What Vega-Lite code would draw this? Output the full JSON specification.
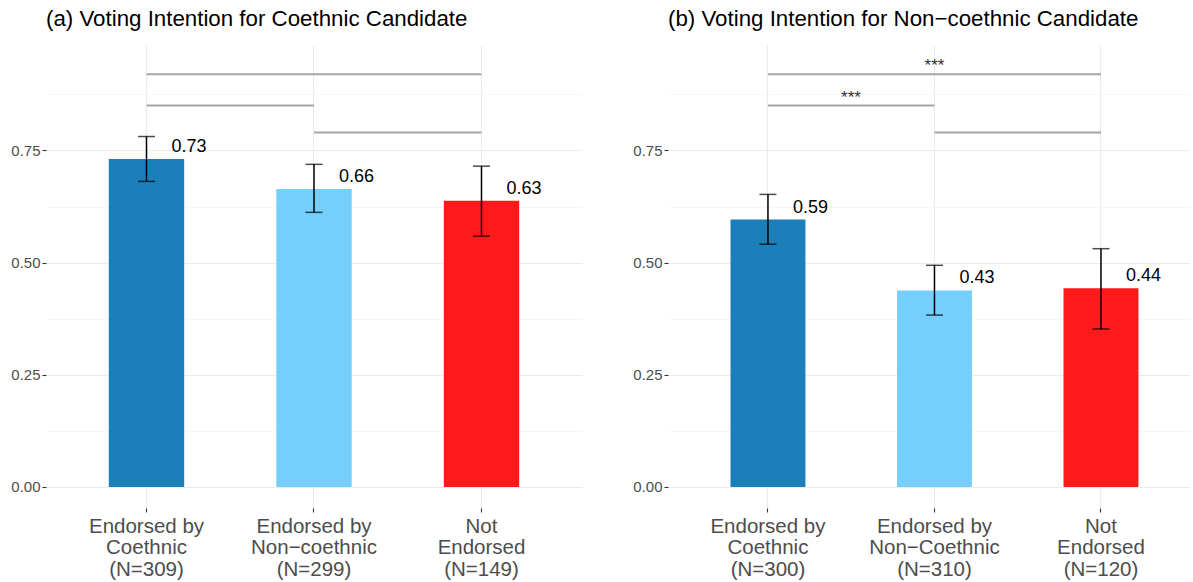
{
  "$schema": "https://vega.github.io/schema/vega-lite/v6.json",
  "background": "white",
  "padding": {"left": 10, "top": 7, "right": 0, "bottom": 0},
  "spacing": 50,
  "config": {
    "view": {"stroke": null},
    "font": "Liberation Sans",
    "title": {"anchor": "start", "frame": "group", "fontSize": 22.3, "fontWeight": "normal", "color": "#000000", "offset": 15}
  },
  "datasets": {
    "barsA": [
      {"cat": "Endorsed by|Coethnic|(N=309)", "grp": "Coethnic", "mean": 0.731, "lo": 0.681, "hi": 0.781, "label": "0.73"},
      {"cat": "Endorsed by|Non−coethnic|(N=299)", "grp": "Non-coethnic", "mean": 0.664, "lo": 0.612, "hi": 0.719, "label": "0.66"},
      {"cat": "Not|Endorsed|(N=149)", "grp": "Not endorsed", "mean": 0.638, "lo": 0.559, "hi": 0.715, "label": "0.63"}
    ],
    "barsB": [
      {"cat": "Endorsed by|Coethnic|(N=300)", "grp": "Coethnic", "mean": 0.596, "lo": 0.541, "hi": 0.652, "label": "0.59"},
      {"cat": "Endorsed by|Non−Coethnic|(N=310)", "grp": "Non-coethnic", "mean": 0.438, "lo": 0.383, "hi": 0.494, "label": "0.43"},
      {"cat": "Not|Endorsed|(N=120)", "grp": "Not endorsed", "mean": 0.443, "lo": 0.352, "hi": 0.531, "label": "0.44"}
    ],
    "sigA": [
      {"c1": "Endorsed by|Coethnic|(N=309)", "c2": "Not|Endorsed|(N=149)", "y": 0.92},
      {"c1": "Endorsed by|Coethnic|(N=309)", "c2": "Endorsed by|Non−coethnic|(N=299)", "y": 0.85},
      {"c1": "Endorsed by|Non−coethnic|(N=299)", "c2": "Not|Endorsed|(N=149)", "y": 0.79}
    ],
    "sigB": [
      {"c1": "Endorsed by|Coethnic|(N=300)", "c2": "Not|Endorsed|(N=120)", "y": 0.92},
      {"c1": "Endorsed by|Coethnic|(N=300)", "c2": "Endorsed by|Non−Coethnic|(N=310)", "y": 0.85},
      {"c1": "Endorsed by|Non−Coethnic|(N=310)", "c2": "Not|Endorsed|(N=120)", "y": 0.79}
    ],
    "starB13": [{"c": "Endorsed by|Non−Coethnic|(N=310)", "y": 0.92, "t": "***"}],
    "starB12": [{"c": "Endorsed by|Coethnic|(N=300)", "y": 0.85, "t": "***"}]
  },
  "hconcat": [
    {
      "width": 536,
      "height": 463,
      "title": {"text": "(a) Voting Intention for Coethnic Candidate"},
      "layer": [
        {
          "data": {"name": "barsA"},
          "mark": {"type": "bar"},
          "encoding": {
            "x": {"field": "cat", "type": "nominal", "sort": null,
              "scale": {"domain": ["Endorsed by|Coethnic|(N=309)", "Endorsed by|Non−coethnic|(N=299)", "Not|Endorsed|(N=149)"], "paddingInner": 0.55, "paddingOuter": 0.375},
              "axis": {"title": null, "labelAngle": 0, "labelExpr": "split(datum.label, '|')", "labelFontSize": 20.5, "labelColor": "#4D4D4D", "labelLineHeight": 21.5, "labelPadding": 4, "tickSize": 4, "tickColor": "#333333", "tickWidth": 1.1, "domain": false, "grid": true, "gridColor": "#EBEBEB", "gridWidth": 1.2, "bandPosition": 0.5}},
            "y": {"field": "mean", "type": "quantitative",
              "scale": {"domain": [-0.047, 0.985], "nice": false, "zero": false},
              "axis": {"title": null, "values": [0, 0.125, 0.25, 0.375, 0.5, 0.625, 0.75, 0.875],
                "labelExpr": "(datum.value*8) % 2 == 1 ? '' : format(datum.value, '.2f')",
                "labelFontSize": 15, "labelColor": "#4D4D4D", "labelPadding": 2, "tickSize": 4,
                "tickColor": {"condition": {"test": "(datum.value*8) % 2 == 1", "value": "transparent"}, "value": "#333333"},
                "tickWidth": 1.1,
                "gridColor": {"condition": {"test": "(datum.value*8) % 2 == 1", "value": "#F3F3F3"}, "value": "#EBEBEB"},
                "gridWidth": {"condition": {"test": "(datum.value*8) % 2 == 1", "value": 0.7}, "value": 1.2},
                "domain": false}},
            "color": {"field": "grp", "type": "nominal", "legend": null,
              "scale": {"domain": ["Coethnic", "Non-coethnic", "Not endorsed"], "range": ["#1B7FB9", "#75CEFC", "#FE1A1A"]}}
          }
        },
        {
          "data": {"name": "barsA"},
          "mark": {"type": "rule", "color": "#000000", "strokeWidth": 1.5},
          "encoding": {"x": {"field": "cat", "type": "nominal"}, "y": {"field": "lo", "type": "quantitative"}, "y2": {"field": "hi"}}
        },
        {
          "data": {"name": "barsA"},
          "mark": {"type": "tick", "orient": "horizontal", "size": 17, "thickness": 1.5, "color": "#000000"},
          "encoding": {"x": {"field": "cat", "type": "nominal"}, "y": {"field": "lo", "type": "quantitative"}}
        },
        {
          "data": {"name": "barsA"},
          "mark": {"type": "tick", "orient": "horizontal", "size": 17, "thickness": 1.5, "color": "#000000"},
          "encoding": {"x": {"field": "cat", "type": "nominal"}, "y": {"field": "hi", "type": "quantitative"}}
        },
        {
          "data": {"name": "barsA"},
          "mark": {"type": "text", "align": "left", "baseline": "middle", "dx": 25, "dy": -12, "fontSize": 18, "color": "#000000"},
          "encoding": {"x": {"field": "cat", "type": "nominal"}, "y": {"field": "mean", "type": "quantitative"}, "text": {"field": "label"}}
        },
        {
          "data": {"name": "sigA"},
          "mark": {"type": "rule", "color": "#A6A6A6", "strokeWidth": 2},
          "encoding": {"x": {"field": "c1", "type": "nominal"}, "x2": {"field": "c2"}, "y": {"field": "y", "type": "quantitative"}}
        }
      ]
    },
    {
      "width": 522,
      "height": 463,
      "title": {"text": "(b) Voting Intention for Non−coethnic Candidate"},
      "layer": [
        {
          "data": {"name": "barsB"},
          "mark": {"type": "bar"},
          "encoding": {
            "x": {"field": "cat", "type": "nominal", "sort": null,
              "scale": {"domain": ["Endorsed by|Coethnic|(N=300)", "Endorsed by|Non−Coethnic|(N=310)", "Not|Endorsed|(N=120)"], "paddingInner": 0.55, "paddingOuter": 0.3425, "align": 0.548},
              "axis": {"title": null, "labelAngle": 0, "labelExpr": "split(datum.label, '|')", "labelFontSize": 20.5, "labelColor": "#4D4D4D", "labelLineHeight": 21.5, "labelPadding": 4, "tickSize": 4, "tickColor": "#333333", "tickWidth": 1.1, "domain": false, "grid": true, "gridColor": "#EBEBEB", "gridWidth": 1.2, "bandPosition": 0.5}},
            "y": {"field": "mean", "type": "quantitative",
              "scale": {"domain": [-0.047, 0.985], "nice": false, "zero": false},
              "axis": {"title": null, "values": [0, 0.125, 0.25, 0.375, 0.5, 0.625, 0.75, 0.875],
                "labelExpr": "(datum.value*8) % 2 == 1 ? '' : format(datum.value, '.2f')",
                "labelFontSize": 15, "labelColor": "#4D4D4D", "labelPadding": 2, "tickSize": 4,
                "tickColor": {"condition": {"test": "(datum.value*8) % 2 == 1", "value": "transparent"}, "value": "#333333"},
                "tickWidth": 1.1,
                "gridColor": {"condition": {"test": "(datum.value*8) % 2 == 1", "value": "#F3F3F3"}, "value": "#EBEBEB"},
                "gridWidth": {"condition": {"test": "(datum.value*8) % 2 == 1", "value": 0.7}, "value": 1.2},
                "domain": false}},
            "color": {"field": "grp", "type": "nominal", "legend": null,
              "scale": {"domain": ["Coethnic", "Non-coethnic", "Not endorsed"], "range": ["#1B7FB9", "#75CEFC", "#FE1A1A"]}}
          }
        },
        {
          "data": {"name": "barsB"},
          "mark": {"type": "rule", "color": "#000000", "strokeWidth": 1.5},
          "encoding": {"x": {"field": "cat", "type": "nominal"}, "y": {"field": "lo", "type": "quantitative"}, "y2": {"field": "hi"}}
        },
        {
          "data": {"name": "barsB"},
          "mark": {"type": "tick", "orient": "horizontal", "size": 17, "thickness": 1.5, "color": "#000000"},
          "encoding": {"x": {"field": "cat", "type": "nominal"}, "y": {"field": "lo", "type": "quantitative"}}
        },
        {
          "data": {"name": "barsB"},
          "mark": {"type": "tick", "orient": "horizontal", "size": 17, "thickness": 1.5, "color": "#000000"},
          "encoding": {"x": {"field": "cat", "type": "nominal"}, "y": {"field": "hi", "type": "quantitative"}}
        },
        {
          "data": {"name": "barsB"},
          "mark": {"type": "text", "align": "left", "baseline": "middle", "dx": 25, "dy": -12, "fontSize": 18, "color": "#000000"},
          "encoding": {"x": {"field": "cat", "type": "nominal"}, "y": {"field": "mean", "type": "quantitative"}, "text": {"field": "label"}}
        },
        {
          "data": {"name": "sigB"},
          "mark": {"type": "rule", "color": "#A6A6A6", "strokeWidth": 2},
          "encoding": {"x": {"field": "c1", "type": "nominal"}, "x2": {"field": "c2"}, "y": {"field": "y", "type": "quantitative"}}
        },
        {
          "data": {"name": "starB13"},
          "mark": {"type": "text", "align": "center", "baseline": "alphabetic", "dy": -3, "fontSize": 17, "color": "#333333"},
          "encoding": {"x": {"field": "c", "type": "nominal"}, "y": {"field": "y", "type": "quantitative"}, "text": {"field": "t"}}
        },
        {
          "data": {"name": "starB12"},
          "mark": {"type": "text", "align": "center", "baseline": "alphabetic", "dx": 83, "dy": -3, "fontSize": 17, "color": "#333333"},
          "encoding": {"x": {"field": "c", "type": "nominal"}, "y": {"field": "y", "type": "quantitative"}, "text": {"field": "t"}}
        }
      ]
    }
  ]
}
